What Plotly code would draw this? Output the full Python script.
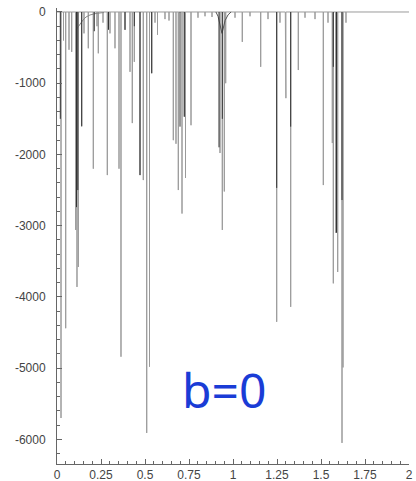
import plotly.graph_objects as go

# Sharp absorption lines (light grey): position and depth
gray_x = [0.0227, 0.0369, 0.0494, 0.0682, 0.0835, 0.1063, 0.1136, 0.1210, 0.1403, 0.1534,
          0.1778, 0.2063, 0.2273, 0.2347, 0.2614, 0.2858, 0.3011, 0.3295, 0.3523, 0.3636,
          0.3864, 0.4148, 0.4278, 0.4392, 0.4716, 0.4903, 0.5097, 0.5256, 0.5381, 0.5568,
          0.5710, 0.6136, 0.6364, 0.6608, 0.6761, 0.6892, 0.7102, 0.7233, 0.7301, 0.7614,
          0.8011, 0.8409, 0.8807, 0.9261, 0.9392, 0.9506, 0.9585, 1.0114, 1.0528, 1.0966,
          1.1574, 1.1989, 1.2483, 1.2670, 1.2972, 1.3006, 1.3278, 1.3710, 1.4091, 1.4659,
          1.5131, 1.5398, 1.5642, 1.5699, 1.5835, 1.5949, 1.6193, 1.6250, 1.6420]
gray_depth = [-5700, -400, -4440, -530, -560, -3060, -3860, -3580, -1610, -300,
              -510, -2200, -200, -580, -150, -2290, -300, -510, -2200, -4840,
              -250, -840, -1560, -700, -2290, -2360, -5910, -4980, -860, -150,
              -320, -100, -120, -1800, -1850, -2500, -2830, -1470, -2330, -1590,
              -80, -60, -70, -1980, -3060, -2520, -1000, -80, -420, -60,
              -770, -100, -4350, -150, -860, -1210, -4140, -815, -80, -100,
              -2430, -150, -1840, -3810, -3100, -3650, -6050, -4990, -150]

# Overlapping (darker) line cores
dark_x = [0.0188, 0.1108, 0.1182, 0.1403, 0.2119, 0.2926, 0.3864, 0.4392, 0.4716, 0.5381,
          0.6989, 0.7233, 0.9205, 0.9392, 1.2483, 1.3278, 1.5699, 1.5881, 1.6193]
dark_depth = [-1500, -2740, -2500, -1600, -270, -250, -250, -200, -2290, -860,
              -1610, -1470, -1900, -1500, -2470, -1610, -770, -3100, -2640]

# Broad absorption wings
wing1_x = [0.108, 0.119, 0.131, 0.148, 0.165, 0.1875, 0.2216, 0.267]
wing1_y = [-253, -211, -168, -112, -70, -42, -21, -7]
wing2_x = [0.903, 0.915, 0.9375, 0.955, 0.972, 0.989]
wing2_y = [0, -60, -300, -120, -40, 0]

x_ticks = [0, 0.25, 0.5, 0.75, 1, 1.25, 1.5, 1.75, 2]
x_ticktext = ["0", "0.25", "0.5", "0.75", "1", "1.25", "1.5", "1.75", "2"]
y_ticks = [0, -1000, -2000, -3000, -4000, -5000, -6000]
y_ticktext = ["0", "-1000", "-2000", "-3000", "-4000", "-5000", "-6000"]


def spikes(xs, ys, baseline=True):
    px, py = [], []
    pairs = sorted(zip(xs, ys))
    if baseline:
        px.append(0.0); py.append(0.0)
    for x, y in pairs:
        if baseline:
            px += [x, x, x]; py += [0, y, 0]
        else:
            px += [x, x, None]; py += [0, y, None]
    if baseline:
        px.append(2.0); py.append(0.0)
    return px, py


fig = go.Figure()
gx, gy = spikes(gray_x, gray_depth, True)
fig.add_trace(go.Scatter(x=gx, y=gy, mode="lines", line=dict(color="#9a9a9a", width=1),
                         hoverinfo="skip", showlegend=False))
fig.add_trace(go.Scatter(x=wing1_x, y=wing1_y, mode="lines", line=dict(color="#888888", width=1),
                         hoverinfo="skip", showlegend=False))
fig.add_trace(go.Scatter(x=wing2_x, y=wing2_y, mode="lines", line=dict(color="#555555", width=1),
                         hoverinfo="skip", showlegend=False))
dx, dy = spikes(dark_x, dark_depth, False)
fig.add_trace(go.Scatter(x=dx, y=dy, mode="lines", line=dict(color="#333333", width=1),
                         hoverinfo="skip", showlegend=False, connectgaps=False))

fig.add_annotation(x=0.949, y=-5307, text="b=0", showarrow=False,
                   font=dict(family="Noto Sans", size=48, color="#1a3cd6"),
                   xanchor="center", yanchor="middle")

axis_common = dict(showgrid=False, zeroline=False, showline=True, linecolor="#666666",
                   linewidth=1, ticks="inside", ticklen=5, tickcolor="#666666",
                   automargin=False, ticklabeloverflow="allow",
                   tickfont=dict(family="Liberation Sans", size=12, color="#444444"))

fig.update_xaxes(range=[0, 2], tickmode="array", tickvals=x_ticks, ticktext=x_ticktext,
                 minor=dict(dtick=0.05, tick0=0, ticks="inside", ticklen=3, tickcolor="#666666",
                            showgrid=False),
                 **axis_common)
fig.update_yaxes(range=[-6346, 56], tickmode="array", tickvals=y_ticks, ticktext=y_ticktext,
                 minor=dict(dtick=200, tick0=0, ticks="inside", ticklen=3, tickcolor="#666666",
                            showgrid=False),
                 ticklabelstandoff=8,
                 **axis_common)

fig.update_layout(width=416, height=481, margin=dict(l=57, r=7, t=8, b=17),
                  paper_bgcolor="white", plot_bgcolor="white")

# remove the default 8px page margin so the figure fills the window exactly
fig.write_html("out.html", config={"displayModeBar": False},
               post_script="document.body.style.margin='0';document.body.style.overflow='hidden';")
